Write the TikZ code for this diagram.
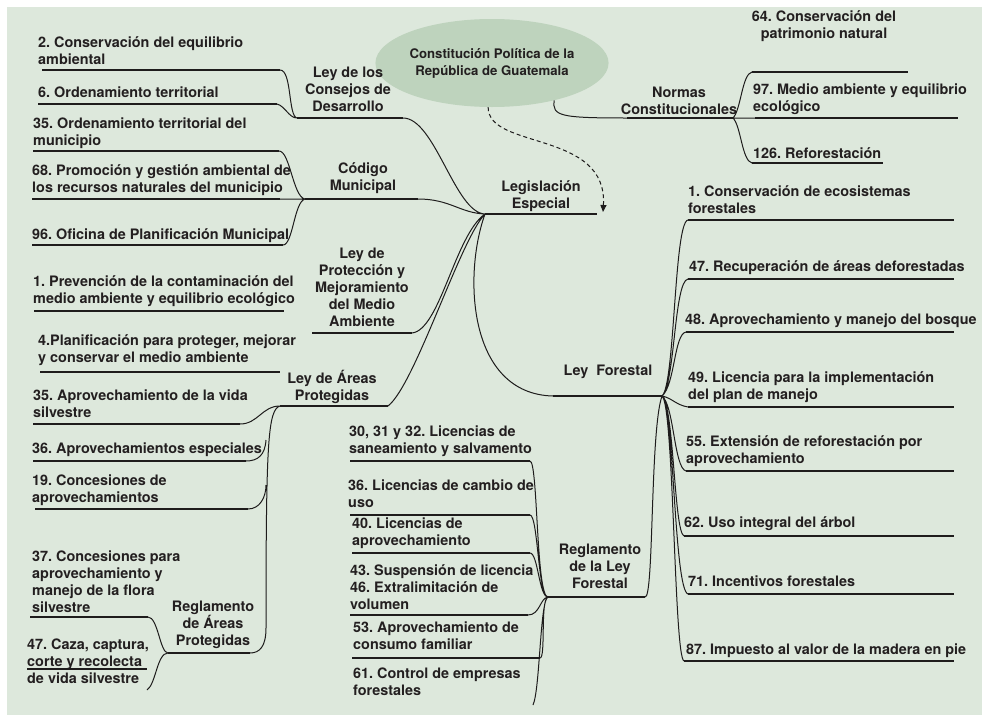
\documentclass[tikz,border=0pt]{standalone}
\usepackage{fontspec}
\setmainfont{TeX Gyre Heros}
\usetikzlibrary{shapes.geometric,arrows.meta}
\definecolor{bg}{HTML}{DDE8DC}
\definecolor{oval}{HTML}{BED3BD}
\definecolor{ink}{HTML}{1E1C1C}
\definecolor{txt}{HTML}{231F20}
\newcommand\mapfont{\frenchspacing\bfseries\fontsize{14.4}{17.2}\selectfont}
\tikzset{
  leaf/.style={anchor=south west, inner sep=0pt, text depth=0pt, align=left, font=\mapfont, text=txt},
  topic/.style={anchor=south, inner sep=0pt, text depth=0pt, align=center, font=\mapfont, text=txt},
  bar/.style={draw=ink, line width=2.2pt},
  link/.style={draw=ink, line width=1pt},
}

\begin{document}
\begin{tikzpicture}[x=1pt,y=-1pt]
  \useasboundingbox (0,0) rectangle (982,715);
  \fill[bg] (7,7) rectangle (982,715);
  % root
  \node[ellipse, fill=oval, minimum width=214pt, minimum height=88pt, inner sep=0pt, align=center,
        text=txt, font=\frenchspacing\bfseries\fontsize{13.2}{17}\selectfont] (cpg) at (492,63)
        {Constitución Política de la\\República de Guatemala};
  % hubs
  \coordinate (leg) at (485,214);  \coordinate (lege) at (597,214);
  \coordinate (legarr) at (603,212);
  \coordinate (cons) at (297,118); \coordinate (conse) at (403,118);
  \coordinate (cod) at (305,199);  \coordinate (code) at (418,199);
  \coordinate (pro) at (312,333);  \coordinate (proe) at (412,333);
  \coordinate (are) at (280,406);  \coordinate (aree) at (388,406);
  \coordinate (ar36) at (266,440); \coordinate (ar19) at (266,485);
  \coordinate (arbot) at (266,628);
  \coordinate (rea) at (168,653);  \coordinate (reae) at (250,653);
  \coordinate (lf) at (553,396);   \coordinate (lfe) at (662,396);
  \coordinate (rlf) at (548,597);  \coordinate (rlfe) at (645,597);
  \coordinate (nor) at (627,118);  \coordinate (nore) at (733,118);
  % topics
  \node[topic] (legis) at (541,209) {Legislación\\Especial};
  \node[topic] (consejos) at (348,112) {Ley de los\\Consejos de\\Desarrollo};
  \node[topic] (codigo) at (363,191) {Código\\Municipal};
  \node[topic] (proteccion) at (362,327) {Ley de\\Protección y\\Mejoramiento\\del Medio\\Ambiente};
  \node[topic] (areas) at (332,401) {Ley de Áreas\\Protegidas};
  \node[topic] (regareas) at (213,646) {Reglamento\\de Áreas\\Protegidas};
  \node[topic] (forestal) at (608,376) {Ley~~Forestal};
  \node[topic] (regley) at (600,589) {Reglamento\\de la Ley\\Forestal};
  \node[topic] (normas) at (679,115) {Normas\\Constitucionales};
  % leaves: Consejos de Desarrollo
  \node[leaf] (c2) at (38,65) {2. Conservación del equilibrio\\ambiental};
  \node[leaf] (c6) at (38,98) {6. Ordenamiento territorial};
  \coordinate (c2a) at (42,70);  \coordinate (c2b) at (280,70);
  \coordinate (c6a) at (38,104); \coordinate (c6b) at (277,104);
  % leaves: Codigo Municipal
  \node[leaf] (m35) at (33,146) {35. Ordenamiento territorial del\\municipio};
  \node[leaf] (m68) at (32,193) {68. Promoción y gestión ambiental de\\los recursos naturales del municipio};
  \node[leaf] (m96) at (32,240) {96. Oficina de Planificación Municipal};
  \coordinate (m35a) at (33,151); \coordinate (m35b) at (279,151);
  \coordinate (m68a) at (32,199); \coordinate (m68b) at (280,199);
  \coordinate (m96a) at (32,245); \coordinate (m96b) at (283,245);
  % leaves: Proteccion
  \node[leaf] (p1) at (33,304) {1. Prevención de la contaminación del\\medio ambiente y equilibrio ecológico};
  \node[leaf] (p4) at (38,363) {4.Planificación para proteger, mejorar\\y conservar el medio ambiente};
  \coordinate (p1a) at (34,311); \coordinate (p1b) at (284,311);
  \coordinate (p4a) at (40,372); \coordinate (p4b) at (280,372);
  % leaves: Areas Protegidas
  \node[leaf] (a35) at (33,418) {35. Aprovechamiento de la vida\\silvestre};
  \node[leaf] (a36) at (32,454) {36. Aprovechamientos especiales};
  \node[leaf] (a19) at (32,503) {19. Concesiones de\\aprovechamientos};
  \node[leaf] (r37) at (32,613) {37. Concesiones para\\aprovechamiento y\\manejo de la flora\\silvestre};
  \node[leaf] (r47) at (27,684) {47. Caza, captura,\\corte y recolecta\\de vida silvestre};
  \coordinate (a35a) at (33,424); \coordinate (a35b) at (240,424);
  \coordinate (a36a) at (33,461); \coordinate (a36b) at (246,461);
  \coordinate (a19a) at (35,509); \coordinate (a19b) at (248,509);
  \coordinate (r37a) at (30,617); \coordinate (r37b) at (148,617);
  \coordinate (r47u) at (27,669); \coordinate (r47v) at (147,669);
  \coordinate (r47e) at (147,690);
  % leaves: Normas Constitucionales
  \node[topic] (n64) at (824,39) {64. Conservación del\\patrimonio natural};
  \node[leaf] (n97) at (753,112) {97. Medio ambiente y equilibrio\\ecológico};
  \node[leaf] (n126) at (753,159) {126. Reforestación};
  \coordinate (n64a) at (752,72);   \coordinate (n64b) at (908,72);
  \coordinate (n97a) at (755,118);  \coordinate (n97b) at (958,118);
  \coordinate (n126a) at (752,163); \coordinate (n126b) at (883,163);
  % leaves: Ley Forestal
  \node[leaf] (f1) at (688,214) {1. Conservación de ecosistemas\\forestales};
  \node[leaf] (f47) at (689,272) {47. Recuperación de áreas deforestadas};
  \node[leaf] (f48) at (685,325) {48. Aprovechamiento y manejo del bosque};
  \node[leaf] (f49) at (688,400) {49. Licencia para la implementación\\del plan de manejo};
  \node[leaf] (f55) at (686,464) {55. Extensión de reforestación por\\aprovechamiento};
  \node[leaf] (f62) at (684,528) {62. Uso integral del árbol};
  \node[leaf] (f71) at (688,587) {71. Incentivos forestales};
  \node[leaf] (f87) at (686,655) {87. Impuesto al valor de la madera en pie};
  \coordinate (f1a) at (688,220);  \coordinate (f1b) at (954,220);
  \coordinate (f47a) at (688,279); \coordinate (f47b) at (954,279);
  \coordinate (f48a) at (686,332); \coordinate (f48b) at (954,332);
  \coordinate (f49a) at (688,407); \coordinate (f49b) at (954,407);
  \coordinate (f55a) at (686,471); \coordinate (f55b) at (954,471);
  \coordinate (f62a) at (684,536); \coordinate (f62b) at (954,536);
  \coordinate (f71a) at (688,594); \coordinate (f71b) at (954,594);
  \coordinate (f87a) at (684,661); \coordinate (f87b) at (954,661);
  % leaves: Reglamento de la Ley Forestal
  \node[leaf] (l30) at (349,454) {30, 31 y 32. Licencias de\\saneamiento y salvamento};
  \node[leaf] (l36) at (348,508) {36. Licencias de cambio de\\uso};
  \node[leaf] (l40) at (352,546) {40. Licencias de\\aprovechamiento};
  \node[leaf] (l43) at (350,610) {43. Suspensión de licencia\\46. Extralimitación de\\volumen};
  \node[leaf] (l53) at (353,650) {53. Aprovechamiento de\\consumo familiar};
  \node[leaf] (l61) at (353,696) {61. Control de empresas\\forestales};
  \coordinate (l30a) at (350,461); \coordinate (l30b) at (530,461);
  \coordinate (l36a) at (350,515); \coordinate (l36b) at (530,515);
  \coordinate (l40a) at (352,553); \coordinate (l40b) at (530,553);
  \coordinate (l43a) at (350,615); \coordinate (l43b) at (528,615);
  \coordinate (l53a) at (352,658); \coordinate (l53b) at (540,658);
  \coordinate (l61e) at (533,705);
  % underlines
  \draw[bar] (leg) -- (lege) (cons) -- (conse) (cod) -- (code) (pro) -- (proe)
    (are) -- (aree) (rea) -- (reae) (lf) -- (lfe) (rlf) -- (rlfe) (nor) -- (nore);
  \draw[bar] (c2a) -- (c2b) (c6a) -- (c6b) (m35a) -- (m35b) (m68a) -- (m68b) (m96a) -- (m96b)
    (p1a) -- (p1b) (p4a) -- (p4b) (a35a) -- (a35b) (a36a) -- (a36b) (a19a) -- (a19b)
    (r37a) -- (r37b) (n64a) -- (n64b) (n97a) -- (n97b) (n126a) -- (n126b);
  \draw[bar] (f1a) -- (f1b) (f47a) -- (f47b) (f48a) -- (f48b) (f49a) -- (f49b)
    (f55a) -- (f55b) (f62a) -- (f62b) (f71a) -- (f71b) (f87a) -- (f87b);
  \draw[bar] (l30a) -- (l30b) (l36a) -- (l36b) (l40a) -- (l40b) (l43a) -- (l43b) (l53a) -- (l53b);
  \draw[link, line width=1.2pt] (r47u) -- (r47v);
  % connectors
  \draw[link]
    (conse) .. controls (435,118) and (455,213) .. (leg)
    (code) .. controls (450,199) and (460,213) .. (leg)
    (proe) .. controls (440,330) and (455,235) .. (leg)
    (aree) .. controls (415,385) and (460,240) .. (leg)
    (leg) .. controls (463,275) and (468,394) .. (lf);
  \draw[link]
    (c2b) .. controls (292,70) and (288,116) .. (cons)
    (c6b) .. controls (285,106) and (289,118) .. (cons)
    (m35b) .. controls (290,151) and (293,197) .. (cod)
    (m68b) -- (cod)
    (m96b) .. controls (293,245) and (294,202) .. (cod);
  \draw[link]
    (a35b) .. controls (258,424) and (262,406) .. (are)
    (are) .. controls (268,410) and (266,440) .. (arbot)
    (arbot) .. controls (266,646) and (260,653) .. (reae)
    (a36b) .. controls (258,461) and (265,455) .. (ar36)
    (a19b) .. controls (260,509) and (266,497) .. (ar19)
    (r37b) .. controls (158,617) and (160,653) .. (rea)
    (r47e) .. controls (156,684) and (157,653) .. (rea);
  \draw[link]
    (cpg.-31) .. controls (552,116) and (560,118) .. (nor)
    (nore) .. controls (741,110) and (742,74) .. (n64a)
    (nore) -- (n97a)
    (nore) .. controls (741,126) and (742,161) .. (n126a);
  \draw[link]
    (lfe) .. controls (675,385) and (674,222) .. (f1a)
    (lfe) .. controls (675,385) and (674,281) .. (f47a)
    (lfe) .. controls (675,385) and (674,334) .. (f48a)
    (lfe) .. controls (672,398) and (676,405) .. (f49a)
    (lfe) .. controls (674,405) and (674,468) .. (f55a)
    (lfe) .. controls (674,405) and (674,532) .. (f62a)
    (lfe) .. controls (674,405) and (674,590) .. (f71a)
    (lfe) .. controls (674,405) and (674,657) .. (f87a)
    (lfe) .. controls (650,430) and (654,600) .. (rlfe);
  \draw[link]
    (l30b) .. controls (538,461) and (536,597) .. (rlf)
    (l36b) .. controls (538,515) and (538,597) .. (rlf)
    (l40b) .. controls (538,553) and (539,597) .. (rlf)
    (l43b) .. controls (540,615) and (540,598) .. (rlf)
    (l53b) .. controls (546,658) and (540,600) .. (rlf)
    (rlf) .. controls (540,600) and (540,690) .. (l61e);
  \draw[link, dash pattern=on 4pt off 3pt, -{Triangle[length=7pt,width=6pt]}]
    (cpg.-95) .. controls (488,150) and (608,130) .. (legarr);
\end{tikzpicture}
\end{document}
